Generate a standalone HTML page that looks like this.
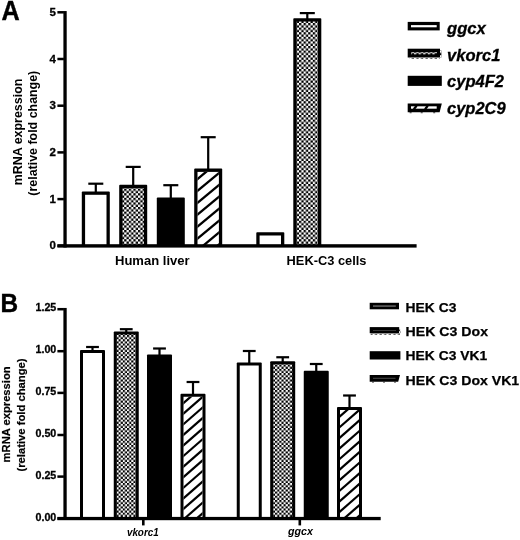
<!DOCTYPE html>
<html lang="en"><head><meta charset="utf-8"><title>Figure</title>
<style>html,body{margin:0;padding:0;background:#fff}body{width:520px;height:540px;overflow:hidden}svg{display:block;will-change:transform}text{font-family:"Liberation Sans", sans-serif;font-weight:bold;fill:#000}</style></head><body>
<svg width="520" height="540" viewBox="0 0 520 540">
<defs>
<pattern id="chk" width="4.6" height="4.6" patternUnits="userSpaceOnUse"><rect width="4.6" height="4.6" fill="#fff"/><rect width="2.3" height="2.3" fill="#000"/><rect x="2.3" y="2.3" width="2.3" height="2.3" fill="#000"/></pattern>
<pattern id="chk2" width="4.23" height="4.23" patternUnits="userSpaceOnUse" patternTransform="translate(0.15 0.85)"><rect width="4.23" height="4.23" fill="#fff"/><rect width="2.115" height="2.115" fill="#000"/><rect x="2.115" y="2.115" width="2.115" height="2.115" fill="#000"/></pattern>
</defs>
<rect width="520" height="540" fill="#fff"/>
<text x="1.5" y="19.6" text-anchor="start" style="font-size:26.8px;stroke:#000;stroke-width:0.4px;" textLength="18.2" lengthAdjust="spacingAndGlyphs">A</text>
<rect x="63.40" y="11.05" width="3.30" height="236.45" fill="#000"/>
<rect x="57.40" y="244.55" width="6.50" height="2.50" fill="#000"/>
<text x="56.0" y="249.4" text-anchor="end" style="font-size:11.5px;stroke:#000;stroke-width:0.3px;">0</text>
<rect x="57.40" y="197.85" width="6.50" height="2.50" fill="#000"/>
<text x="56.0" y="202.7" text-anchor="end" style="font-size:11.5px;stroke:#000;stroke-width:0.3px;">1</text>
<rect x="57.40" y="151.15" width="6.50" height="2.50" fill="#000"/>
<text x="56.0" y="156.0" text-anchor="end" style="font-size:11.5px;stroke:#000;stroke-width:0.3px;">2</text>
<rect x="57.40" y="104.45" width="6.50" height="2.50" fill="#000"/>
<text x="56.0" y="109.3" text-anchor="end" style="font-size:11.5px;stroke:#000;stroke-width:0.3px;">3</text>
<rect x="57.40" y="57.75" width="6.50" height="2.50" fill="#000"/>
<text x="56.0" y="62.6" text-anchor="end" style="font-size:11.5px;stroke:#000;stroke-width:0.3px;">4</text>
<rect x="57.40" y="11.05" width="6.50" height="2.50" fill="#000"/>
<text x="56.0" y="15.9" text-anchor="end" style="font-size:11.5px;stroke:#000;stroke-width:0.3px;">5</text>
<rect x="88.30" y="182.60" width="15.00" height="2.20" fill="#000"/>
<rect x="94.70" y="183.70" width="2.20" height="8.80" fill="#000"/>
<rect x="81.80" y="191.50" width="28.00" height="54.50" rx="0.9" fill="#000"/>
<rect x="85.10" y="194.80" width="21.40" height="51.20" fill="#fff"/>
<rect x="125.70" y="165.80" width="15.00" height="2.20" fill="#000"/>
<rect x="132.10" y="166.90" width="2.20" height="18.90" fill="#000"/>
<rect x="119.20" y="184.80" width="28.00" height="61.20" rx="0.9" fill="#000"/>
<rect x="122.50" y="188.10" width="21.40" height="57.90" fill="url(#chk)"/>
<rect x="163.30" y="184.10" width="15.00" height="2.20" fill="#000"/>
<rect x="169.70" y="185.20" width="2.20" height="13.30" fill="#000"/>
<rect x="156.80" y="197.50" width="28.00" height="48.50" rx="0.9" fill="#000"/>
<rect x="200.70" y="136.10" width="15.00" height="2.20" fill="#000"/>
<rect x="207.10" y="137.20" width="2.20" height="32.40" fill="#000"/>
<rect x="194.20" y="168.60" width="28.00" height="77.40" rx="0.9" fill="#000"/>
<rect x="197.50" y="171.90" width="21.40" height="74.10" fill="#fff"/>
<clipPath id="c1"><rect x="197.50" y="171.90" width="21.40" height="74.10"/></clipPath>
<g clip-path="url(#c1)" stroke="#000" stroke-width="2.3">
<line x1="195.50" y1="168.76" x2="220.90" y2="147.68"/>
<line x1="195.50" y1="180.66" x2="220.90" y2="159.58"/>
<line x1="195.50" y1="192.56" x2="220.90" y2="171.48"/>
<line x1="195.50" y1="204.46" x2="220.90" y2="183.38"/>
<line x1="195.50" y1="216.36" x2="220.90" y2="195.28"/>
<line x1="195.50" y1="228.26" x2="220.90" y2="207.18"/>
<line x1="195.50" y1="240.16" x2="220.90" y2="219.08"/>
<line x1="195.50" y1="252.06" x2="220.90" y2="230.98"/>
<line x1="195.50" y1="263.96" x2="220.90" y2="242.88"/>
<line x1="195.50" y1="275.86" x2="220.90" y2="254.78"/>
</g>
<rect x="256.30" y="232.20" width="28.00" height="13.80" rx="0.9" fill="#000"/>
<rect x="259.60" y="235.50" width="21.40" height="10.50" fill="#fff"/>
<rect x="299.80" y="12.00" width="15.00" height="2.20" fill="#000"/>
<rect x="306.20" y="13.10" width="2.20" height="6.10" fill="#000"/>
<rect x="293.30" y="18.20" width="28.00" height="227.80" rx="0.9" fill="#000"/>
<rect x="296.60" y="21.50" width="21.40" height="224.50" fill="url(#chk)"/>
<rect x="57.40" y="244.20" width="359.20" height="3.40" fill="#000"/>
<text x="115" y="264.6" text-anchor="start" style="font-size:13px;" textLength="74.6" lengthAdjust="spacingAndGlyphs">Human liver</text>
<text x="286.6" y="264.6" text-anchor="start" style="font-size:13px;" textLength="79.9" lengthAdjust="spacingAndGlyphs">HEK-C3 cells</text>
<text x="21.5" y="132" text-anchor="middle" style="font-size:13px;" textLength="106.7" lengthAdjust="spacingAndGlyphs" transform="rotate(-90 21.5 132)">mRNA expression</text>
<text x="37.4" y="133.2" text-anchor="middle" style="font-size:13px;" textLength="124.9" lengthAdjust="spacingAndGlyphs" transform="rotate(-90 37.4 133.2)">(relative fold change)</text>
<rect x="407.70" y="21.90" width="32.00" height="8.50" fill="#000"/>
<rect x="411.00" y="25.10" width="25.70" height="2.20" fill="#fff"/>
<rect x="407.70" y="48.70" width="32.30" height="8.80" fill="#000"/>
<rect x="411.00" y="52.00" width="26.00" height="2.30" fill="url(#chk)"/>
<rect x="409.50" y="57.50" width="30.50" height="1.10" fill="url(#chk)"/>
<rect x="440.00" y="50.50" width="1.60" height="7.00" fill="url(#chk)"/>
<rect x="407.70" y="75.80" width="34.10" height="10.10" fill="#000"/>
<polygon points="407.7,103.5 441.8,103.5 439.6,112.3 407.7,112.3" fill="#000"/>
<rect x="411.00" y="106.30" width="25.70" height="2.40" fill="#fff"/>
<g stroke="#000" stroke-width="2.2"><line x1="413.8" y1="109.2" x2="416.6" y2="105.8"/><line x1="425" y1="109.2" x2="427.8" y2="105.8"/></g>
<rect x="409.60" y="112.30" width="2.00" height="0.90" fill="#222"/>
<rect x="420.70" y="112.30" width="2.00" height="0.90" fill="#222"/>
<rect x="433.20" y="112.30" width="2.00" height="0.90" fill="#222"/>
<text x="447.0" y="33.8" text-anchor="start" style="font-size:17px;font-style:italic;stroke:#000;stroke-width:0.3px;" textLength="38.9" lengthAdjust="spacingAndGlyphs">ggcx</text>
<text x="447.0" y="60.5" text-anchor="start" style="font-size:17px;font-style:italic;stroke:#000;stroke-width:0.3px;" textLength="53.4" lengthAdjust="spacingAndGlyphs">vkorc1</text>
<text x="447.0" y="86.9" text-anchor="start" style="font-size:17px;font-style:italic;stroke:#000;stroke-width:0.3px;" textLength="57.0" lengthAdjust="spacingAndGlyphs">cyp4F2</text>
<text x="447.0" y="114.0" text-anchor="start" style="font-size:17px;font-style:italic;stroke:#000;stroke-width:0.3px;" textLength="58.7" lengthAdjust="spacingAndGlyphs">cyp2C9</text>
<text x="0.6" y="312.2" text-anchor="start" style="font-size:26px;stroke:#000;stroke-width:0.4px;" textLength="17.6" lengthAdjust="spacingAndGlyphs">B</text>
<rect x="63.40" y="307.95" width="3.30" height="212.05" fill="#000"/>
<rect x="57.40" y="517.25" width="6.50" height="2.50" fill="#000"/>
<text x="56.3" y="521.3" text-anchor="end" style="font-size:11.2px;stroke:#000;stroke-width:0.3px;" textLength="20.8" lengthAdjust="spacingAndGlyphs">0.00</text>
<rect x="57.40" y="475.35" width="6.50" height="2.50" fill="#000"/>
<text x="56.3" y="479.2" text-anchor="end" style="font-size:11.2px;stroke:#000;stroke-width:0.3px;" textLength="20.8" lengthAdjust="spacingAndGlyphs">0.25</text>
<rect x="57.40" y="433.75" width="6.50" height="2.50" fill="#000"/>
<text x="56.3" y="437.1" text-anchor="end" style="font-size:11.2px;stroke:#000;stroke-width:0.3px;" textLength="20.8" lengthAdjust="spacingAndGlyphs">0.50</text>
<rect x="57.40" y="391.65" width="6.50" height="2.50" fill="#000"/>
<text x="56.3" y="394.9" text-anchor="end" style="font-size:11.2px;stroke:#000;stroke-width:0.3px;" textLength="20.8" lengthAdjust="spacingAndGlyphs">0.75</text>
<rect x="57.40" y="349.95" width="6.50" height="2.50" fill="#000"/>
<text x="56.3" y="352.8" text-anchor="end" style="font-size:11.2px;stroke:#000;stroke-width:0.3px;" textLength="20.8" lengthAdjust="spacingAndGlyphs">1.00</text>
<rect x="57.40" y="307.95" width="6.50" height="2.50" fill="#000"/>
<text x="56.3" y="310.7" text-anchor="end" style="font-size:11.2px;stroke:#000;stroke-width:0.3px;" textLength="20.8" lengthAdjust="spacingAndGlyphs">1.25</text>
<rect x="86.10" y="345.90" width="12.80" height="2.20" fill="#000"/>
<rect x="91.40" y="347.00" width="2.20" height="4.00" fill="#000"/>
<rect x="80.00" y="350.00" width="25.00" height="168.50" rx="0.9" fill="#000"/>
<rect x="83.00" y="353.00" width="19.00" height="165.50" fill="#fff"/>
<rect x="119.85" y="328.10" width="12.80" height="2.20" fill="#000"/>
<rect x="125.15" y="329.20" width="2.20" height="3.30" fill="#000"/>
<rect x="113.75" y="331.50" width="25.00" height="187.00" rx="0.9" fill="#000"/>
<rect x="116.75" y="334.50" width="19.00" height="184.00" fill="url(#chk2)"/>
<rect x="153.10" y="347.40" width="12.80" height="2.20" fill="#000"/>
<rect x="158.40" y="348.50" width="2.20" height="7.00" fill="#000"/>
<rect x="147.00" y="354.50" width="25.00" height="164.00" rx="0.9" fill="#000"/>
<rect x="186.60" y="380.90" width="12.80" height="2.20" fill="#000"/>
<rect x="191.90" y="382.00" width="2.20" height="12.75" fill="#000"/>
<rect x="180.50" y="393.75" width="25.00" height="124.75" rx="0.9" fill="#000"/>
<rect x="183.50" y="396.75" width="19.00" height="121.75" fill="#fff"/>
<clipPath id="c2"><rect x="183.50" y="396.75" width="19.00" height="121.75"/></clipPath>
<g clip-path="url(#c2)" stroke="#000" stroke-width="2.2">
<line x1="181.50" y1="394.22" x2="204.50" y2="374.07"/>
<line x1="181.50" y1="404.80" x2="204.50" y2="384.65"/>
<line x1="181.50" y1="415.38" x2="204.50" y2="395.23"/>
<line x1="181.50" y1="425.96" x2="204.50" y2="405.81"/>
<line x1="181.50" y1="436.54" x2="204.50" y2="416.39"/>
<line x1="181.50" y1="447.12" x2="204.50" y2="426.97"/>
<line x1="181.50" y1="457.70" x2="204.50" y2="437.55"/>
<line x1="181.50" y1="468.28" x2="204.50" y2="448.13"/>
<line x1="181.50" y1="478.86" x2="204.50" y2="458.71"/>
<line x1="181.50" y1="489.44" x2="204.50" y2="469.29"/>
<line x1="181.50" y1="500.02" x2="204.50" y2="479.87"/>
<line x1="181.50" y1="510.60" x2="204.50" y2="490.45"/>
<line x1="181.50" y1="521.18" x2="204.50" y2="501.03"/>
<line x1="181.50" y1="531.76" x2="204.50" y2="511.61"/>
<line x1="181.50" y1="542.34" x2="204.50" y2="522.19"/>
</g>
<rect x="242.85" y="349.90" width="12.80" height="2.20" fill="#000"/>
<rect x="248.15" y="351.00" width="2.20" height="12.50" fill="#000"/>
<rect x="236.75" y="362.50" width="25.00" height="156.00" rx="0.9" fill="#000"/>
<rect x="239.75" y="365.50" width="19.00" height="153.00" fill="#fff"/>
<rect x="276.30" y="356.15" width="12.80" height="2.20" fill="#000"/>
<rect x="281.60" y="357.25" width="2.20" height="5.00" fill="#000"/>
<rect x="270.20" y="361.25" width="25.00" height="157.25" rx="0.9" fill="#000"/>
<rect x="273.20" y="364.25" width="19.00" height="154.25" fill="url(#chk2)"/>
<rect x="309.85" y="362.90" width="12.80" height="2.20" fill="#000"/>
<rect x="315.15" y="364.00" width="2.20" height="7.75" fill="#000"/>
<rect x="303.75" y="370.75" width="25.00" height="147.75" rx="0.9" fill="#000"/>
<rect x="343.10" y="394.40" width="12.80" height="2.20" fill="#000"/>
<rect x="348.40" y="395.50" width="2.20" height="12.50" fill="#000"/>
<rect x="337.00" y="407.00" width="25.00" height="111.50" rx="0.9" fill="#000"/>
<rect x="340.00" y="410.00" width="19.00" height="108.50" fill="#fff"/>
<clipPath id="c3"><rect x="340.00" y="410.00" width="19.00" height="108.50"/></clipPath>
<g clip-path="url(#c3)" stroke="#000" stroke-width="2.2">
<line x1="338.00" y1="407.47" x2="361.00" y2="387.32"/>
<line x1="338.00" y1="418.05" x2="361.00" y2="397.90"/>
<line x1="338.00" y1="428.63" x2="361.00" y2="408.48"/>
<line x1="338.00" y1="439.21" x2="361.00" y2="419.06"/>
<line x1="338.00" y1="449.79" x2="361.00" y2="429.64"/>
<line x1="338.00" y1="460.37" x2="361.00" y2="440.22"/>
<line x1="338.00" y1="470.95" x2="361.00" y2="450.80"/>
<line x1="338.00" y1="481.53" x2="361.00" y2="461.38"/>
<line x1="338.00" y1="492.11" x2="361.00" y2="471.96"/>
<line x1="338.00" y1="502.69" x2="361.00" y2="482.54"/>
<line x1="338.00" y1="513.27" x2="361.00" y2="493.12"/>
<line x1="338.00" y1="523.85" x2="361.00" y2="503.70"/>
<line x1="338.00" y1="534.43" x2="361.00" y2="514.28"/>
<line x1="338.00" y1="545.01" x2="361.00" y2="524.86"/>
</g>
<rect x="57.40" y="516.90" width="323.30" height="3.30" fill="#000"/>
<rect x="142.00" y="519.00" width="2.60" height="6.40" fill="#000"/>
<rect x="298.50" y="519.00" width="2.60" height="6.40" fill="#000"/>
<text x="126.9" y="536.2" text-anchor="start" style="font-size:10.5px;font-style:italic;" textLength="31.8" lengthAdjust="spacingAndGlyphs">vkorc1</text>
<text x="288" y="535.2" text-anchor="start" style="font-size:10.5px;font-style:italic;" textLength="24.9" lengthAdjust="spacingAndGlyphs">ggcx</text>
<text x="10.2" y="414.4" text-anchor="middle" style="font-size:11px;stroke:#000;stroke-width:0.2px;" textLength="96" lengthAdjust="spacingAndGlyphs" transform="rotate(-90 10.2 414.4)">mRNA expression</text>
<text x="24.7" y="415" text-anchor="middle" style="font-size:11px;stroke:#000;stroke-width:0.2px;" textLength="113.2" lengthAdjust="spacingAndGlyphs" transform="rotate(-90 24.7 415)">(relative fold change)</text>
<rect x="369.70" y="302.80" width="29.30" height="6.50" fill="#000"/>
<rect x="373.00" y="305.50" width="22.80" height="1.10" fill="#8a8a8a"/>
<rect x="369.70" y="327.10" width="29.50" height="6.10" fill="#000"/>
<rect x="370.50" y="333.20" width="29.50" height="1.40" fill="url(#chk)"/>
<rect x="399.20" y="329.50" width="1.20" height="3.70" fill="url(#chk)"/>
<rect x="373.00" y="330.20" width="23.00" height="0.80" fill="#444"/>
<rect x="369.70" y="351.20" width="30.70" height="8.30" fill="#000"/>
<polygon points="369.7,375.1 400.0,375.1 398.2,381.7 369.7,381.7" fill="#000"/>
<rect x="373.00" y="377.80" width="22.50" height="0.90" fill="#555"/>
<rect x="372.00" y="381.70" width="2.00" height="0.80" fill="#222"/>
<rect x="383.00" y="381.70" width="2.00" height="0.80" fill="#222"/>
<rect x="394.00" y="381.70" width="2.00" height="0.80" fill="#222"/>
<text x="405.6" y="312.1" text-anchor="start" style="font-size:13.4px;stroke:#000;stroke-width:0.25px;" textLength="50.8" lengthAdjust="spacingAndGlyphs">HEK C3</text>
<text x="405.6" y="335.8" text-anchor="start" style="font-size:13.4px;stroke:#000;stroke-width:0.25px;" textLength="82.4" lengthAdjust="spacingAndGlyphs">HEK C3 Dox</text>
<text x="405.6" y="360.4" text-anchor="start" style="font-size:13.4px;stroke:#000;stroke-width:0.25px;" textLength="81.5" lengthAdjust="spacingAndGlyphs">HEK C3 VK1</text>
<text x="405.6" y="384.7" text-anchor="start" style="font-size:13.4px;stroke:#000;stroke-width:0.25px;" textLength="113.6" lengthAdjust="spacingAndGlyphs">HEK C3 Dox VK1</text>
</svg></body></html>
